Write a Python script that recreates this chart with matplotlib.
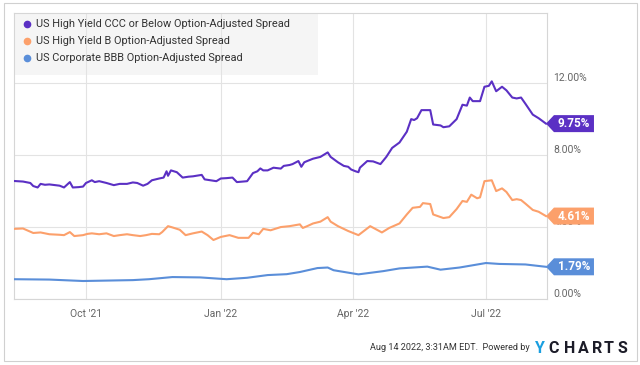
import matplotlib
matplotlib.use("Agg")
import matplotlib.pyplot as plt
import pandas as pd
from matplotlib.patches import Polygon, Rectangle
from matplotlib.lines import Line2D
from matplotlib.transforms import IdentityTransform
import matplotlib.dates as mdates

plt.rcParams['font.family'] = ['Roboto', 'DejaVu Sans']

series_names = ["US High Yield CCC or Below Option-Adjusted Spread",
                "US High Yield B Option-Adjusted Spread",
                "US Corporate BBB Option-Adjusted Spread"]
series_colors = ["#5b30c4", "#fca06b", "#5a8ed9"]

ccc_dates = ["2021-08-13", "2021-08-19", "2021-08-24", "2021-08-26", "2021-08-29", "2021-08-31",
             "2021-09-03", "2021-09-06", "2021-09-13", "2021-09-16", "2021-09-20", "2021-09-22",
             "2021-09-26", "2021-09-29", "2021-10-01", "2021-10-05", "2021-10-07", "2021-10-10",
             "2021-10-15", "2021-10-20", "2021-10-24", "2021-10-29", "2021-11-02", "2021-11-05",
             "2021-11-09", "2021-11-12", "2021-11-15", "2021-11-20", "2021-11-23", "2021-11-25",
             "2021-11-26", "2021-11-28", "2021-12-02", "2021-12-06", "2021-12-10", "2021-12-13",
             "2021-12-19", "2021-12-21", "2021-12-25", "2021-12-29", "2022-01-01", "2022-01-05",
             "2022-01-09", "2022-01-12", "2022-01-19", "2022-01-23", "2022-01-26", "2022-01-28",
             "2022-01-30", "2022-02-02", "2022-02-06", "2022-02-11", "2022-02-13", "2022-02-17",
             "2022-02-19", "2022-02-23", "2022-02-25", "2022-02-27", "2022-03-01", "2022-03-05",
             "2022-03-10", "2022-03-15", "2022-03-17", "2022-03-22", "2022-03-26", "2022-03-29",
             "2022-03-31", "2022-04-03", "2022-04-05", "2022-04-06", "2022-04-11", "2022-04-15",
             "2022-04-20", "2022-04-24", "2022-04-28", "2022-05-03", "2022-05-08", "2022-05-11",
             "2022-05-13", "2022-05-15", "2022-05-18", "2022-05-24", "2022-05-26", "2022-05-31",
             "2022-06-02", "2022-06-06", "2022-06-11", "2022-06-15", "2022-06-18", "2022-06-20",
             "2022-06-22", "2022-06-27", "2022-06-30", "2022-07-03", "2022-07-05", "2022-07-08",
             "2022-07-12", "2022-07-15", "2022-07-19", "2022-07-22", "2022-07-25", "2022-07-28",
             "2022-08-02", "2022-08-06", "2022-08-11"]
ccc_vals = [6.56, 6.53, 6.45, 6.28, 6.20, 6.40,
            6.35, 6.37, 6.30, 6.20, 6.50, 6.20,
            6.22, 6.25, 6.45, 6.60, 6.50, 6.55,
            6.45, 6.33, 6.40, 6.40, 6.48, 6.45,
            6.30, 6.40, 6.60, 6.70, 6.75, 7.10,
            6.85, 7.15, 7.05, 6.75, 6.80, 6.82,
            6.90, 6.65, 6.60, 6.55, 6.70, 6.72,
            6.75, 6.50, 6.55, 7.00, 7.10, 7.26,
            7.15, 7.15, 7.30, 7.25, 7.40, 7.45,
            7.50, 7.67, 7.35, 7.60, 7.67, 7.80,
            7.90, 8.15, 7.90, 7.60, 7.40, 7.35,
            7.20, 7.10, 7.05, 7.30, 7.67, 7.65,
            7.50, 7.90, 8.40, 8.70, 9.30, 10.00,
            9.95, 10.05, 10.50, 10.50, 9.70, 9.65,
            9.55, 9.60, 10.00, 10.80, 10.75, 11.20,
            11.00, 11.00, 11.80, 11.85, 12.10, 11.55,
            11.80, 11.60, 11.20, 11.15, 11.20, 10.85,
            10.25, 10.05, 9.75]

b_dates = ["2021-08-13", "2021-08-19", "2021-08-26", "2021-08-31", "2021-09-06", "2021-09-13",
           "2021-09-16", "2021-09-20", "2021-09-23", "2021-09-29", "2021-10-02", "2021-10-05",
           "2021-10-10", "2021-10-15", "2021-10-20", "2021-10-24", "2021-10-29", "2021-11-02",
           "2021-11-07", "2021-11-11", "2021-11-15", "2021-11-20", "2021-11-22", "2021-11-26",
           "2021-11-29", "2021-12-04", "2021-12-08", "2021-12-13", "2021-12-19", "2021-12-23",
           "2021-12-27", "2022-01-01", "2022-01-07", "2022-01-13", "2022-01-20", "2022-01-23",
           "2022-01-27", "2022-01-30", "2022-02-04", "2022-02-11", "2022-02-17", "2022-02-24",
           "2022-02-26", "2022-03-01", "2022-03-05", "2022-03-10", "2022-03-15", "2022-03-17",
           "2022-03-22", "2022-03-29", "2022-04-05", "2022-04-13", "2022-04-21", "2022-04-26",
           "2022-05-03", "2022-05-08", "2022-05-12", "2022-05-17", "2022-05-19", "2022-05-24",
           "2022-05-26", "2022-06-02", "2022-06-06", "2022-06-11", "2022-06-15", "2022-06-18",
           "2022-06-21", "2022-06-25", "2022-06-27", "2022-06-30", "2022-07-05", "2022-07-08",
           "2022-07-12", "2022-07-15", "2022-07-19", "2022-07-22", "2022-07-25", "2022-07-28",
           "2022-08-02", "2022-08-06", "2022-08-11"]
b_vals = [3.90, 3.92, 3.67, 3.70, 3.60, 3.57,
          3.55, 3.72, 3.50, 3.55, 3.62, 3.65,
          3.60, 3.65, 3.50, 3.55, 3.60, 3.55,
          3.50, 3.55, 3.62, 3.60, 3.72, 4.05,
          3.98, 3.85, 3.55, 3.65, 3.75, 3.55,
          3.28, 3.45, 3.55, 3.40, 3.40, 3.68,
          3.60, 3.90, 3.82, 4.00, 4.05, 4.15,
          3.95, 4.05, 4.20, 4.30, 4.55, 4.30,
          4.05, 3.78, 3.55, 4.05, 3.70, 3.95,
          4.20, 4.70, 5.07, 5.12, 5.33, 5.28,
          4.70, 4.50, 4.55, 5.00, 5.45, 5.40,
          5.80, 5.60, 5.65, 6.55, 6.60, 6.00,
          6.15, 5.95, 5.50, 5.55, 5.50, 5.30,
          4.95, 4.85, 4.61]

bbb_dates = ["2021-08-13", "2021-09-06", "2021-09-29", "2021-11-02", "2021-11-13", "2021-11-29",
             "2021-12-18", "2022-01-05", "2022-01-19", "2022-02-02", "2022-02-15", "2022-02-24",
             "2022-03-08", "2022-03-15", "2022-03-19", "2022-04-05", "2022-04-22", "2022-05-03",
             "2022-05-22", "2022-05-31", "2022-06-13", "2022-07-01", "2022-07-10", "2022-07-28",
             "2022-08-11"]
bbb_vals = [1.10, 1.08, 1.00, 1.05, 1.10, 1.22,
            1.20, 1.10, 1.18, 1.33, 1.38, 1.50,
            1.72, 1.75, 1.60, 1.37, 1.55, 1.70,
            1.80, 1.63, 1.75, 2.00, 1.95, 1.92,
            1.79]

y_ticks = [0, 4, 8, 12]
y_tick_labels = ["0.00%", "4.00%", "8.00%", "12.00%"]
x_ticks = ["2021-10-01", "2022-01-01", "2022-04-01", "2022-07-01"]
x_tick_labels = ["Oct '21", "Jan '22", "Apr '22", "Jul '22"]
footer_text = "Aug 14 2022, 3:31AM EDT.  Powered by"

W, H = 640, 365
fig = plt.figure(figsize=(W / 100, H / 100), dpi=100)
ax = fig.add_axes([14 / W, 1 - 299 / H, (547 - 14) / W, (299 - 13) / H])

all_series = [(ccc_dates, ccc_vals), (b_dates, b_vals), (bbb_dates, bbb_vals)]
for (d, v), c in zip(all_series, series_colors):
    ax.plot(pd.to_datetime(d), v, color=c, lw=1.5, zorder=3, solid_joinstyle='round')

ax.set_xlim(pd.Timestamp("2021-08-12 20:40"), pd.Timestamp("2022-08-11 16:50"))
ax.set_ylim(0, 15.9)

ax.set_xticks(pd.to_datetime(x_ticks))
ax.set_xticklabels(x_tick_labels)
ax.set_yticks(y_ticks)
ax.set_yticklabels(y_tick_labels)
ax.yaxis.tick_right()
ax.tick_params(length=0, labelcolor='#666666', labelsize=7.5)
ax.tick_params(axis='x', pad=7)
ax.tick_params(axis='y', pad=4.5)
for lab in ax.get_yticklabels():
    lab.set_va('bottom')

ax.set_axisbelow(True)
ax.grid(True, color='#e3e3e3', lw=0.8)
for sp in ax.spines.values():
    sp.set_color('#d6d6d6')
    sp.set_linewidth(0.8)

# legend panel
ax.add_patch(Rectangle((0, (299 - 75) / 286), (318 - 14) / 533, 1 - (299 - 75) / 286,
                       transform=ax.transAxes, facecolor='#f5f5f5', edgecolor='none', zorder=0.1))
for i, (name, c) in enumerate(zip(series_names, series_colors)):
    yy = 1 - (24 + 17 * i) / H
    fig.add_artist(Line2D([27 / W], [yy], marker='o', ms=4.5, color=c, mec=c,
                          transform=fig.transFigure))
    fig.text(36 / W, yy, name, fontsize=7.9, color='#333333', va='center', ha='left')

# value flags
for (d, v), c in zip(all_series, series_colors):
    px, py = ax.transData.transform((mdates.date2num(pd.Timestamp(d[-1])), v[-1]))
    h = 8.5
    pts = [(px, py), (px + 8, py + h), (px + 48, py + h), (px + 48, py - h), (px + 8, py - h)]
    fig.add_artist(Polygon(pts, closed=True, facecolor=c, edgecolor='none',
                           transform=IdentityTransform(), zorder=5))
    fig.text(px + 28, py, f"{v[-1]:.2f}%", color='white', fontsize=8.5, fontweight='bold',
             ha='center', va='center', transform=IdentityTransform(), zorder=6)

# outer frame
fig.add_artist(Rectangle((4 / W, 1 - 361 / H), 633 / W, 358 / H, transform=fig.transFigure,
                         facecolor='none', edgecolor='#d0d0d0', lw=0.8))

# footer
fig.text(530 / W, 1 - 348 / H, footer_text, ha='right', va='center', fontsize=6.6,
         color='#333333')
logo_x = [539.5, 553.5, 569.5, 583.5, 597, 609, 622.5]
for ch, lx in zip("YCHARTS", logo_x):
    fig.text(lx / W, 1 - 348.5 / H, ch, ha='center', va='center', fontsize=11.5,
             fontweight='bold', color='#1a9fe0' if ch == 'Y' else '#1c1c28')

fig.savefig("out.png", dpi=100)
